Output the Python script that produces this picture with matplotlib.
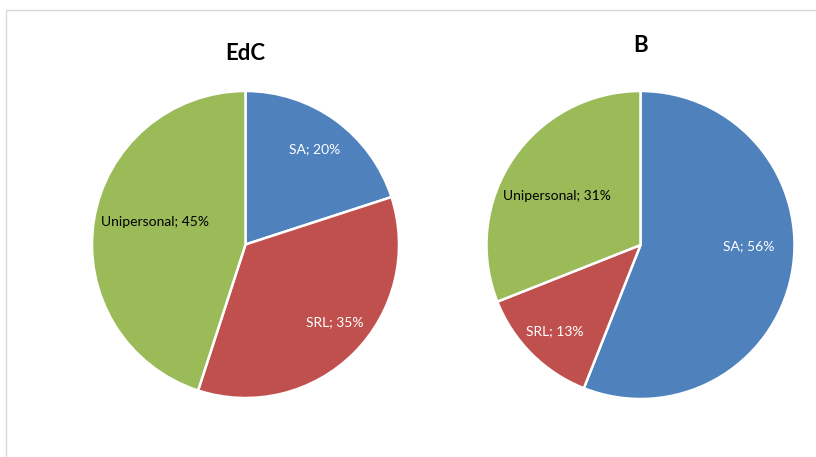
import numpy as np
import matplotlib.pyplot as plt
from matplotlib.patches import Rectangle

plt.rcParams['font.family'] = ['Lato', 'DejaVu Sans']

categories = ["SA", "SRL", "Unipersonal"]
edc_values = [20, 35, 45]
b_values = [56, 13, 31]
colors = ["#4F81BD", "#C0504D", "#9BBB59"]
text_colors = ["white", "white", "black"]

W, H = 816, 457
fig = plt.figure(figsize=(W / 100, H / 100), dpi=100)

# light frame like the Excel chart area
fig.patches.append(Rectangle((6 / W, -0.1), 1.2, (H - 10) / H + 0.1,
                             transform=fig.transFigure, fill=False,
                             edgecolor="#D9D9D9", linewidth=1))


def draw_pie(cx, cy, r, values, title, title_y, label_dist, label_shift):
    ax = fig.add_axes([(cx - r) / W, (H - cy - r) / H, 2 * r / W, 2 * r / H])
    wedges, _ = ax.pie(values, colors=colors, startangle=90, counterclock=False,
                       wedgeprops=dict(edgecolor="white", linewidth=1.8))
    for w, cat, v, tc, d, s in zip(wedges, categories, values, text_colors,
                                   label_dist, label_shift):
        # excel "best fit" labels don't sit exactly on the bisector
        ang = np.deg2rad((w.theta1 + w.theta2) / 2 + s)
        ax.text(d * np.cos(ang), d * np.sin(ang), f"{cat}; {v}%",
                ha="center", va="center", fontsize=10, color=tc)
    ax.set_xlim(-1, 1)
    ax.set_ylim(-1, 1)
    ax.set_aspect("equal")
    ax.axis("off")
    fig.text(cx / W, 1 - title_y / H, title, ha="center", va="center",
             fontsize=16, fontweight="bold")


draw_pie(245.5, 244.5, 153.5, edc_values, "EdC", 53, [0.77, 0.77, 0.61], [0, 4, -5])
draw_pie(640.5, 245, 154, b_values, "B", 46, [0.70, 0.79, 0.63], [10, 0, 4])

fig.savefig("out.png", dpi=100)
